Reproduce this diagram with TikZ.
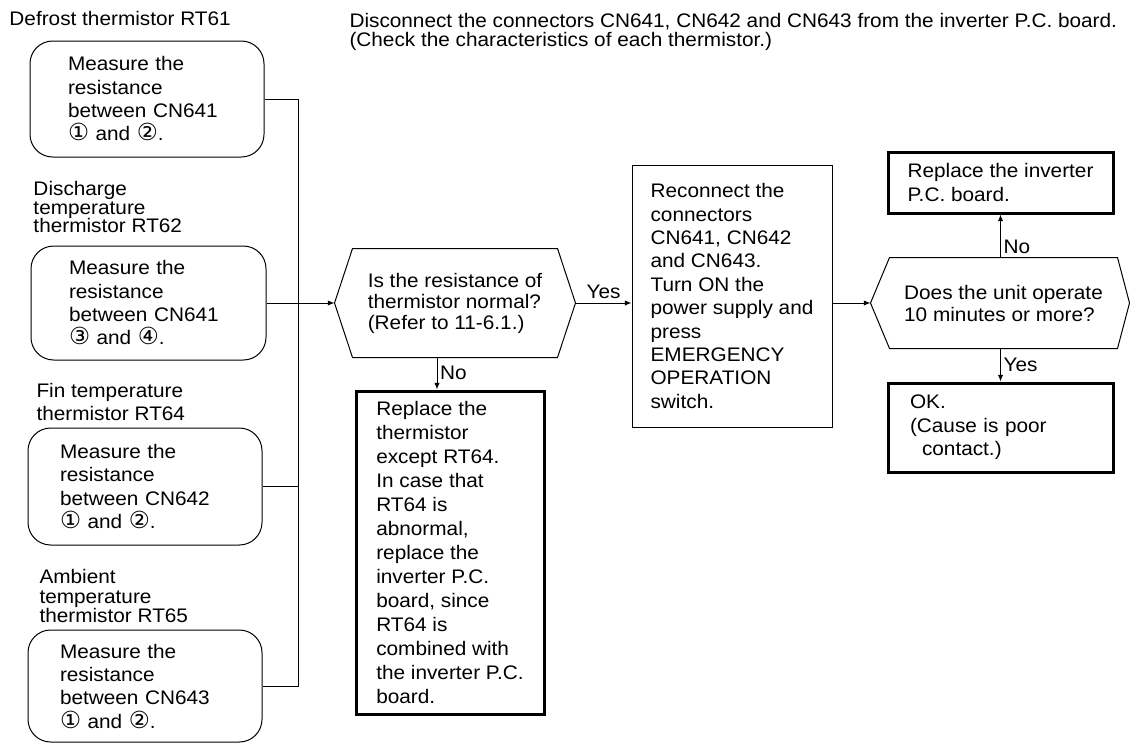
\documentclass[tikz,border=0pt]{standalone}
\usepackage{fontspec}
\setmainfont{Liberation Sans}[FakeStretch=1.06]
\newfontfamily\circfont{DejaVu Sans}[Scale=1.2]
\newcommand{\cnum}[1]{{\circfont #1}}
\usetikzlibrary{arrows.meta}

\tikzset{every picture/.style={line width=0.75pt}}
\tikzset{
  txt/.style={font=\fontsize{14.7pt}{17.5pt}\selectfont, align=left, inner sep=0pt},
  mbox/.style 2 args={draw, rounded corners=17pt, txt, text width=#1, inner xsep=#2, inner ysep=0pt},
  tbox/.style={draw, txt, line width=2.25pt},
  arr/.style={-{Latex[length=5pt,width=4pt]}},
}

\begin{document}
\begin{tikzpicture}[x=0.75pt,y=0.75pt,yscale=-1,xscale=1]
\useasboundingbox (0,0) rectangle (1141,744);

% Text Node
\draw (349,13) node (top) [txt, anchor=north west, font=\fontsize{14.7pt}{14.25pt}\selectfont] {Disconnect the connectors CN641, CN642 and CN643 from the inverter P.C. board.\\(Check the characteristics of each thermistor.)};

% Text Node
\draw (9,11) node (l1) [txt, anchor=north west] {Defrost thermistor RT61};
% Text Node
\draw (33,181) node (l2) [txt, anchor=north west, font=\fontsize{14.7pt}{13.9pt}\selectfont] {Discharge\\temperature\\thermistor RT62};
% Text Node
\draw (36,383) node (l3) [txt, anchor=north west, font=\fontsize{14.7pt}{17.25pt}\selectfont] {Fin temperature\\thermistor RT64};
% Text Node
\draw (39,569) node (l4) [txt, anchor=north west, font=\fontsize{14.7pt}{14.6pt}\selectfont] {Ambient\\temperature\\thermistor RT65};

%Shape: Rounded Rect
\draw (147,99) node (m1) [mbox={118.5pt}{28.5pt}, minimum height=87pt] {Measure the\\resistance\\between CN641\\\cnum{①} and \cnum{②}.};
%Shape: Rounded Rect
\draw (148.5,303) node (m2) [mbox={119.25pt}{28.5pt}, minimum height=85.5pt] {Measure the\\resistance\\between CN641\\\cnum{③} and \cnum{④}.};
%Shape: Rounded Rect
\draw (145,486.5) node (m3) [mbox={127.5pt}{24pt}, minimum height=87.75pt] {Measure the\\resistance\\between CN642\\\cnum{①} and \cnum{②}.};
%Shape: Rounded Rect
\draw (145,686) node (m4) [mbox={127.5pt}{24pt}, minimum height=84pt] {Measure the\\resistance\\between CN643\\\cnum{①} and \cnum{②}.};

%Shape: Hexagon
\draw (455,303) node (q1) [txt, minimum width=153pt, minimum height=81pt, font=\fontsize{14.7pt}{15.75pt}\selectfont] {Is the resistance of\\thermistor normal?\\(Refer to 11-6.1.)};
\coordinate (q1w) at ([xshift=-13.5pt]q1.west);
\coordinate (q1e) at ([xshift=13.5pt]q1.east);
\draw (q1w) -- (q1.north west) -- (q1.north east) -- (q1e) -- (q1.south east) -- (q1.south west) -- cycle;

%Shape: Rectangle
\draw (450,552.5) node (rp) [tbox, minimum width=141pt, minimum height=242.25pt, font=\fontsize{14.7pt}{18pt}\selectfont] {Replace the\\thermistor\\except RT64.\\In case that\\RT64 is\\abnormal,\\replace the\\inverter P.C.\\board, since\\RT64 is\\combined with\\the inverter P.C.\\board.};

%Shape: Rectangle
\draw (732,296) node (rc) [draw, txt, minimum width=150pt, minimum height=196.5pt, font=\fontsize{14.7pt}{17.55pt}\selectfont] {Reconnect the\\connectors\\CN641, CN642\\and CN643.\\Turn ON the\\power supply and\\press\\EMERGENCY\\OPERATION\\switch.};

%Shape: Hexagon
\draw (1003.5,303) node (q2) [txt, minimum width=170.25pt, minimum height=67.5pt, font=\fontsize{14.7pt}{16.5pt}\selectfont] {Does the unit operate\\10 minutes or more?};
\coordinate (q2w) at ([xshift=-14.25pt]q2.west);
\coordinate (q2e) at ([xshift=9pt]q2.east);
\draw (q2w) -- (q2.north west) -- (q2.north east) -- (q2e) -- (q2.south east) -- (q2.south west) -- cycle;

%Shape: Rectangle
\draw (1000.5,182.5) node (pb) [tbox, minimum width=168.75pt, minimum height=45.75pt] {Replace the inverter\\P.C. board.};
%Shape: Rectangle
\draw (1000.5,427.5) node (ok) [tbox, text width=135.75pt, inner xsep=16.5pt, minimum height=66.75pt] {OK.\\(Cause is poor\\\hspace*{9pt}contact.)};

%Straight Lines
\coordinate (bus) at (298,303);
\draw (m1.east) -- (m1.east -| bus) -- (m4.east -| bus) -- (m4.east);
\draw (m2.east) -- (m2.east -| bus);
\draw (m3.east) -- (m3.east -| bus);
\draw [arr] (bus) -- (q1w);
\draw [arr] (q1e) -- (q1e -| rc.west) node [txt, midway, above, inner sep=3pt] {Yes};
\coordinate (no1) at (437,357);
\draw [arr] (no1) -- (no1 |- rp.north) node [txt, midway, right, inner sep=2pt] {No};
\draw [arr] (q2w -| rc.east) -- (q2w);
\draw [arr] (pb.south |- q2.north) -- (pb.south) node [txt, pos=0.25, right, inner sep=2pt] {No};
\draw [arr] (ok.north |- q2.south) -- (ok.north) node [txt, midway, right, inner sep=2pt] {Yes};

\end{tikzpicture}
\end{document}
